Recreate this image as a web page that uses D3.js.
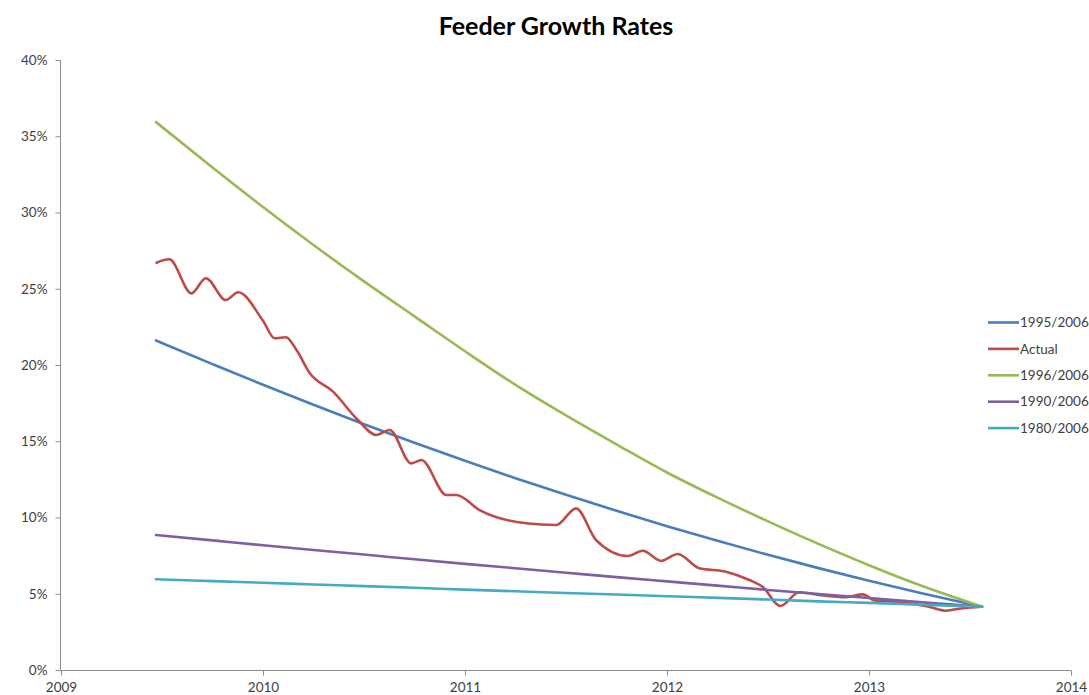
<!DOCTYPE html>
<html>
<head>
<meta charset="utf-8">
<script src="https://cdn.jsdelivr.net/npm/d3@7/dist/d3.min.js"></script>
<style>
  html, body { margin: 0; padding: 0; background: #fff; }
  svg { display: block; font-family: Lato, "Open Sans", sans-serif; }
</style>
</head>
<body>
<svg id="chart" width="1089" height="695"></svg>
<script>
// Projected growth-rate curves, sampled quarterly (year, percent)
const projYears = [2009.47, 2009.75, 2010, 2010.25, 2010.5, 2010.75, 2011, 2011.25, 2011.5,
                   2011.75, 2012, 2012.25, 2012.5, 2012.75, 2013, 2013.25, 2013.56];
const rates1995 = [21.61, 20.06, 18.70, 17.39, 16.12, 14.90, 13.72, 12.58, 11.49,
                   10.44, 9.43, 8.47, 7.55, 6.68, 5.85, 5.06, 4.15];
const rates1996 = [35.93, 32.95, 30.36, 27.87, 25.48, 23.19, 20.90, 18.70, 16.70,
                   14.80, 12.95, 11.30, 9.75, 8.27, 6.87, 5.57, 4.15];
const rates1990 = [8.85, 8.50, 8.18, 7.87, 7.57, 7.26, 6.96, 6.67, 6.38,
                   6.09, 5.81, 5.53, 5.25, 4.98, 4.72, 4.45, 4.15];
const rates1980 = [5.95, 5.83, 5.72, 5.61, 5.50, 5.39, 5.27, 5.16, 5.05,
                   4.95, 4.84, 4.73, 4.62, 4.50, 4.40, 4.29, 4.15];

// Observed growth rate (year, percent)
const actualYears = [2009.473, 2009.536, 2009.646, 2009.717, 2009.816, 2009.877, 2010.000,
                     2010.058, 2010.113, 2010.166, 2010.231, 2010.347, 2010.470, 2010.561,
                     2010.627, 2010.734, 2010.784, 2010.908, 2010.957, 2011.072, 2011.303,
                     2011.452, 2011.550, 2011.649, 2011.806, 2011.880, 2011.971, 2012.053,
                     2012.160, 2012.292, 2012.408, 2012.473, 2012.561, 2012.655, 2012.754,
                     2012.886, 2012.968, 2013.034, 2013.133, 2013.298, 2013.380, 2013.462,
                     2013.558];
const actualRates = [26.71, 26.93, 24.70, 25.69, 24.26, 24.77, 22.90,
                     21.75, 21.82, 20.98, 19.48, 18.25, 16.39, 15.41,
                     15.74, 13.55, 13.77, 11.48, 11.48, 10.49, 9.62,
                     9.51, 10.60, 8.52, 7.48, 7.82, 7.15, 7.61,
                     6.67, 6.45, 5.90, 5.46, 4.20, 5.10, 4.92,
                     4.77, 4.96, 4.54, 4.48, 4.15, 3.89, 4.05,
                     4.15];

const yearTicks = [2009, 2010, 2011, 2012, 2013, 2014];
const percentTicks = [0, 5, 10, 15, 20, 25, 30, 35, 40];

const seriesNames = ["1995/2006", "Actual", "1996/2006", "1990/2006", "1980/2006"];
const seriesColors = ["#4A7EBB", "#BE4B48", "#98B954", "#7D60A0", "#46AAC5"];

const title = "Feeder Growth Rates";

// Assemble series in legend order
const series = [
  { name: seriesNames[0], color: seriesColors[0], xs: projYears, ys: rates1995 },
  { name: seriesNames[1], color: seriesColors[1], xs: actualYears, ys: actualRates },
  { name: seriesNames[2], color: seriesColors[2], xs: projYears, ys: rates1996 },
  { name: seriesNames[3], color: seriesColors[3], xs: projYears, ys: rates1990 },
  { name: seriesNames[4], color: seriesColors[4], xs: projYears, ys: rates1980 }
];

const svg = d3.select("#chart");
const plot = { left: 61, right: 1071, top: 60, bottom: 670 };

const x = d3.scaleLinear().domain([2009, 2014]).range([plot.left, plot.right]);
const y = d3.scaleLinear().domain([0, 40]).range([plot.bottom, plot.top]);

const axisColor = "#8C8C8C";
const labelColor = "#404040";

// Y axis
const yAxis = svg.append("g")
  .attr("transform", `translate(${plot.left - 0.5},0)`)
  .call(d3.axisLeft(y).tickValues(percentTicks).tickSize(5).tickPadding(8)
        .tickFormat(d => d + "%"));
// X axis
const xAxis = svg.append("g")
  .attr("transform", `translate(0,${plot.bottom + 0.5})`)
  .call(d3.axisBottom(x).tickValues(yearTicks).tickSize(5).tickPadding(7)
        .tickFormat(d3.format("d")));

[yAxis, xAxis].forEach(g => {
  g.select(".domain").attr("stroke", axisColor).attr("stroke-width", 1);
  g.selectAll(".tick line").attr("stroke", axisColor);
  g.selectAll(".tick text").attr("fill", labelColor)
    .style("font-size", "13.5px").style("font-family", "Lato, sans-serif");
});
// plain axis lines without outer tick stubs
yAxis.select(".domain").attr("d", `M0,${plot.top}V${plot.bottom}`);
xAxis.select(".domain").attr("d", `M${plot.left},0H${plot.right}`);

// Lines
const line = d3.line()
  .x(d => x(d[0]))
  .y(d => y(d[1]))
  .curve(d3.curveMonotoneX);

svg.append("g").selectAll("path")
  .data(series)
  .join("path")
  .attr("fill", "none")
  .attr("stroke", d => d.color)
  .attr("stroke-width", 2.6)
  .attr("stroke-linejoin", "round")
  .attr("stroke-linecap", "round")
  .attr("d", d => line(d.xs.map((v, i) => [v, d.ys[i]])));

// Title
svg.append("text")
  .attr("x", 556)
  .attr("y", 35)
  .attr("text-anchor", "middle")
  .attr("fill", "#000")
  .style("font-family", "Lato, sans-serif")
  .style("font-weight", "bold")
  .style("font-size", "25px")
  .text(title);

// Legend
const legend = svg.append("g").attr("transform", "translate(988,322.5)");
const item = legend.selectAll("g")
  .data(series)
  .join("g")
  .attr("transform", (d, i) => `translate(0,${i * 26.4})`);
item.append("line")
  .attr("x1", 0).attr("x2", 31).attr("y1", 0).attr("y2", 0)
  .attr("stroke", d => d.color).attr("stroke-width", 2.6);
item.append("text")
  .attr("x", 32)
  .attr("y", 0)
  .attr("dy", "0.35em")
  .attr("fill", labelColor)
  .style("font-size", "13.5px")
  .style("font-family", "Lato, sans-serif")
  .text(d => d.name);
</script>
</body>
</html>
